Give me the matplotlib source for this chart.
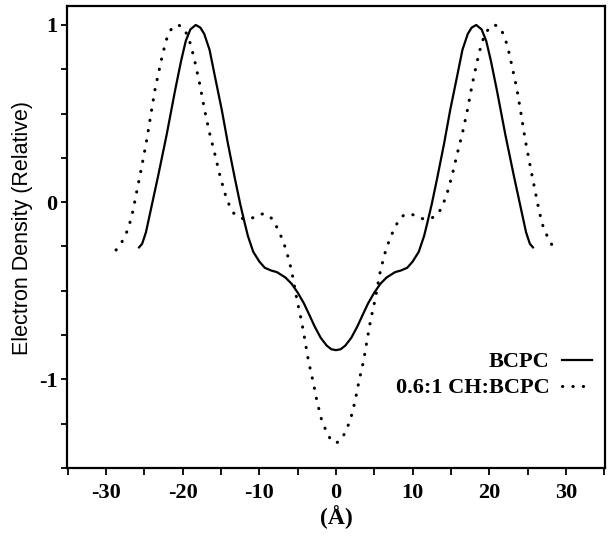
import matplotlib
matplotlib.use("Agg")
import matplotlib.pyplot as plt
from matplotlib.ticker import MultipleLocator

plt.rcParams['axes.unicode_minus'] = False

# BCPC (solid) profile
bcpc_x = [-25.7, -25.3, -24.8, -24.2, -23.2, -22.1, -21.0, -20.2, -19.6, -19.0, -18.3,
          -17.7, -17.2, -16.5, -15.8, -14.9, -14.1, -13.2, -12.5, -11.9, -11.5,
          -10.8, -10.0, -9.3, -8.5, -7.7, -6.6, -5.8, -5.0, -4.2, -3.6,
          -2.8, -2.0, -1.2, -0.6, 0.0,
          0.6, 1.2, 2.0, 2.8, 3.6, 4.2, 5.0, 5.8, 6.6, 7.7,
          8.5, 9.3, 10.0, 10.8, 11.5, 11.9, 12.5, 13.2, 14.1, 14.9,
          15.8, 16.5, 17.2, 17.7, 18.3, 19.0, 19.6, 20.2, 21.0, 22.1,
          23.2, 24.2, 24.8, 25.3, 25.7]
bcpc_y = [-0.255, -0.235, -0.17, -0.05, 0.15, 0.38, 0.63, 0.80, 0.91, 0.975, 1.0,
          0.985, 0.95, 0.86, 0.71, 0.52, 0.33, 0.135, -0.01, -0.12, -0.19,
          -0.28, -0.335, -0.37, -0.385, -0.395, -0.425, -0.46, -0.51, -0.57, -0.625,
          -0.70, -0.765, -0.81, -0.83, -0.835,
          -0.83, -0.81, -0.765, -0.70, -0.625, -0.57, -0.51, -0.46, -0.425, -0.395,
          -0.385, -0.37, -0.335, -0.28, -0.19, -0.12, -0.01, 0.135, 0.33, 0.52,
          0.71, 0.86, 0.95, 0.985, 1.0, 0.975, 0.91, 0.80, 0.63, 0.38,
          0.15, -0.05, -0.17, -0.235, -0.255]

# 0.6:1 CH:BCPC (dotted) profile
ch_x = [-28.7, -28.0, -27.1, -26.5, -26.0, -25.4, -24.7, -24.1, -23.6, -23.1,
        -22.6, -22.1, -21.6, -21.1, -20.6, -20.1, -19.4, -18.9, -18.4, -17.8,
        -17.1, -16.5, -15.8, -15.2, -14.5, -13.9, -13.4, -12.7, -12.0, -11.3,
        -10.6, -10.0, -9.4, -8.8, -8.2, -7.5, -7.0, -6.5, -5.8, -5.1,
        -4.5, -4.05, -3.6, -3.0, -2.5, -1.9, -1.3, -0.7, 0.0,
        0.7, 1.3, 1.9, 2.5, 3.0, 3.6, 4.05, 4.5, 5.1, 5.8,
        6.5, 7.0, 7.5, 8.2, 8.8, 9.4, 10.0, 10.6, 11.3, 12.0,
        12.7, 13.4, 13.9, 14.5, 15.2, 15.8, 16.5, 17.1, 17.8, 18.4,
        18.9, 19.4, 20.1, 20.6, 21.1, 21.6, 22.1, 22.6, 23.1, 23.6,
        24.1, 24.7, 25.4, 26.0, 26.5, 27.1, 28.0, 28.7]
ch_y = [-0.27, -0.23, -0.15, -0.05, 0.06, 0.19, 0.35, 0.51, 0.64, 0.74,
        0.84, 0.92, 0.97, 0.995, 1.0, 0.99, 0.945, 0.88, 0.79, 0.67,
        0.51, 0.39, 0.27, 0.16, 0.05, -0.02, -0.06, -0.085, -0.095, -0.093,
        -0.085, -0.07, -0.065, -0.075, -0.10, -0.16, -0.21, -0.27, -0.385, -0.55,
        -0.67, -0.78, -0.895, -1.01, -1.12, -1.225, -1.29, -1.34, -1.36,
        -1.34, -1.29, -1.225, -1.12, -1.01, -0.895, -0.78, -0.67, -0.55, -0.385,
        -0.27, -0.21, -0.16, -0.10, -0.075, -0.065, -0.07, -0.085, -0.093, -0.095,
        -0.085, -0.06, -0.02, 0.05, 0.16, 0.27, 0.39, 0.51, 0.67, 0.79,
        0.88, 0.945, 0.99, 1.0, 0.995, 0.97, 0.92, 0.84, 0.74, 0.64,
        0.51, 0.35, 0.19, 0.06, -0.05, -0.15, -0.23, -0.27]

series_labels = ["BCPC", "0.6:1 CH:BCPC"]
x_label = "(Å)"
y_label = "Electron Density (Relative)"

fig = plt.figure(figsize=(6.11, 5.43), dpi=100)
ax = fig.add_axes([67/611, 1-468/543, 538/611, 462/543])

ax.plot(bcpc_x, bcpc_y, color='black', lw=1.6, label=series_labels[0],
        solid_joinstyle='round')
ax.plot(ch_x, ch_y, color='black', lw=2.2, linestyle=(0, (0.1, 3.3)),
        dash_capstyle='round', label=series_labels[1])

ax.set_xlim(-35.1, 35.1)
ax.set_ylim(-1.5, 1.107)
ax.xaxis.set_major_locator(MultipleLocator(10))
ax.xaxis.set_minor_locator(MultipleLocator(5))
ax.yaxis.set_major_locator(MultipleLocator(1))
ax.yaxis.set_minor_locator(MultipleLocator(0.25))
ax.tick_params(axis='x', which='both', direction='out', length=5, width=1.3, pad=6)
ax.tick_params(axis='y', which='both', direction='out', length=4, width=1.3, pad=3)

for sp in ax.spines.values():
    sp.set_linewidth(1.6)

tick_font = dict(family='Liberation Serif', weight='bold', size=16)
for lab in ax.get_xticklabels() + ax.get_yticklabels():
    lab.set_fontproperties(matplotlib.font_manager.FontProperties(**tick_font))

ax.set_xlabel(x_label, fontfamily='Liberation Serif', fontweight='bold',
              fontsize=17, labelpad=1)
ax.set_ylabel(y_label, fontfamily='Liberation Sans', fontsize=15.5)
ax.yaxis.set_label_coords(-0.063, 0.52)

leg = ax.legend(loc='center right', bbox_to_anchor=(0.975, 0.201),
                markerfirst=False, frameon=False, borderpad=0, borderaxespad=0,
                handlelength=1.35, handletextpad=0.55, labelspacing=0.25,
                prop=dict(family='Liberation Serif', weight='bold', size=16))

fig.savefig("out.png", dpi=100)
